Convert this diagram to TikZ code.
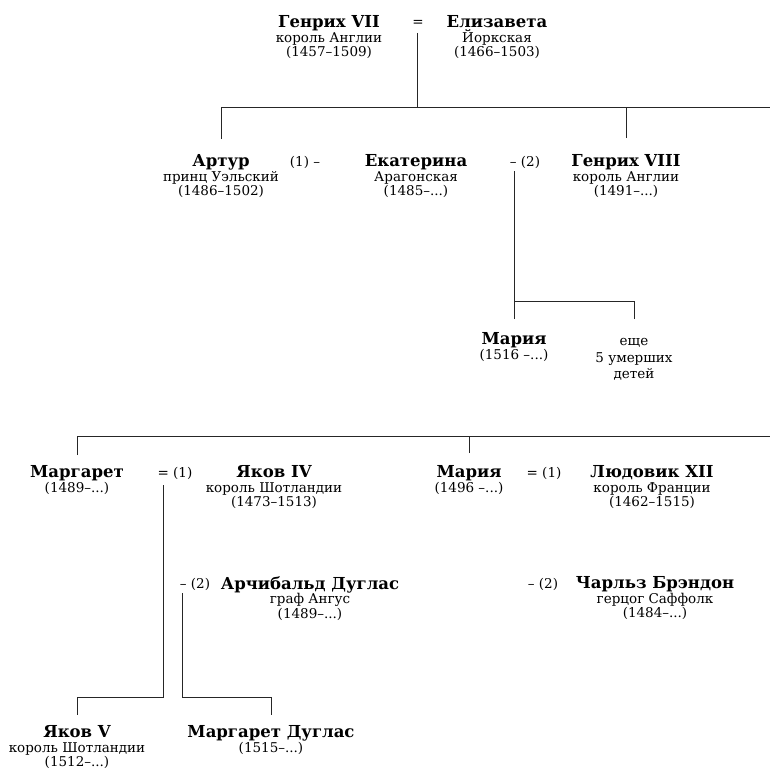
\documentclass[tikz,border=0pt]{standalone}
\usepackage{fontspec}
\setmainfont{DejaVu Serif}
\newcommand{\namefont}{\bfseries\fontsize{16.5}{15}\selectfont}
\newcommand{\subfont}{\fontsize{13.5}{14.8}\selectfont}
\newcommand{\pname}[1]{{\namefont\rule{0pt}{12pt}#1}}
\begin{document}
\begin{tikzpicture}[x=1pt,y=-1pt,
    person/.style={align=center,anchor=north,inner sep=0pt,font=\subfont},
    wed/.style={anchor=base,inner sep=0pt,font=\subfont},
    line/.style={line width=1pt,black!85}]
  \useasboundingbox (0,0) rectangle (770,773);
  % first generation
  \node[person] (henry7) at (329,15) {\pname{Генрих VII}\\король Англии\\(1457–1509)};
  \node[wed] (eq0) at (418,27) {=};
  \node[person] (elizabeth) at (497,15) {\pname{Елизавета}\\Йоркская\\(1466–1503)};
  % second generation
  \node[person] (arthur) at (221,154) {\pname{Артур}\\принц Уэльский\\(1486–1502)};
  \node[wed] (m1) at (305,166) {(1) –};
  \node[person] (catherine) at (416,154) {\pname{Екатерина}\\Арагонская\\(1485–...)};
  \node[wed] (m2) at (525,166) {– (2)};
  \node[person] (henry8) at (626,154) {\pname{Генрих VIII}\\король Англии\\(1491–...)};
  \node[person] (mary1516) at (514,332) {\pname{Мария}\\(1516 –...)};
  \node[person] (others) at (634,333) {\rule{0pt}{12pt}еще\\[2pt]5 умерших\\[2pt]детей};
  % daughters of Henry VII
  \node[person] (margaret) at (77,465) {\pname{Маргарет}\\(1489–...)};
  \node[wed] (m3) at (175,477) {= (1)};
  \node[person] (james4) at (274,465) {\pname{Яков IV}\\король Шотландии\\(1473–1513)};
  \node[wed] (m4) at (195,588) {– (2)};
  \node[person] (archibald) at (310,576) {\pname{Арчибальд Дуглас}\\граф Ангус\\(1489–...)};
  \node[person] (mary1496) at (469,465) {\pname{Мария}\\(1496 –...)};
  \node[wed] (m5) at (544,477) {= (1)};
  \node[person] (louis12) at (652,465) {\pname{Людовик XII}\\король Франции\\(1462–1515)};
  \node[wed] (m6) at (543,588) {– (2)};
  \node[person] (charles) at (655,576) {\pname{Чарльз Брэндон}\\герцог Саффолк\\(1484–...)};
  \node[person] (james5) at (77,725) {\pname{Яков V}\\король Шотландии\\(1512–...)};
  \node[person] (margaretD) at (271,725) {\pname{Маргарет Дуглас}\\(1515–...)};
  % line ends
  \coordinate (d0) at (417,33);
  \coordinate (d2) at (514,171);
  \coordinate (d3) at (163,485);
  \coordinate (d4) at (182,593);
  \coordinate (bus1) at (770,108);
  \coordinate (bus2) at (514,301);
  \coordinate (bus3) at (770,436);
  \begin{scope}[line]
    \draw (d0) -- (d0 |- bus1);
    \draw ([yshift=15pt]arthur.north) |- (bus1);
    \draw ([yshift=16pt]henry8.north) -- (henry8.north |- bus1);
    \draw ([yshift=13pt]mary1516.north) -- (d2);
    \draw ([yshift=14pt]others.north) |- (bus2);
    \draw ([yshift=10pt]margaret.north) |- (bus3);
    \draw ([yshift=12pt]mary1496.north) -- (mary1496.north |- bus3);
    \draw (d3) -- ++(0,212) -| ([yshift=10pt]james5.north);
    \draw (d4) -- ++(0,104) -| ([yshift=10pt]margaretD.north);
  \end{scope}
\end{tikzpicture}
\end{document}
